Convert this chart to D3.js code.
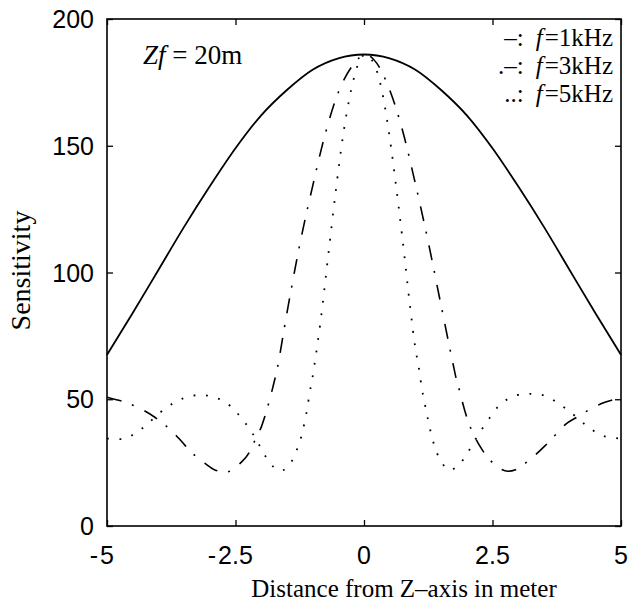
<!DOCTYPE html>
<html><head><meta charset="utf-8">
<script src="https://cdn.jsdelivr.net/npm/d3@7"></script>
<style>
body{margin:0;background:#fff;}
svg{display:block;}
</style></head>
<body>
<svg id="chart" width="631" height="604"></svg>
<script>
// ---- data ----
const xTicks = [-5, -2.5, 0, 2.5, 5];
const xTickLabels = ["-5", "-2.5", "0", "2.5", "5"];
const yTicks = [0, 50, 100, 150, 200];
const yTickLabels = ["0", "50", "100", "150", "200"];

const f1kX = [-5,-4.5,-4,-3.5,-3,-2.5,-2,-1.5,-1,-0.5,0,0.5,1,1.5,2,2.5,3,3.5,4,4.5,5];
const f1kY = [67.5,84,101,118,134,149,162,172,180,184.5,186,184.5,180,172,162,149,134,118,101,84,67.5];

const f3kX = [-5,-4.39,-4.07,-3.74,-3.56,-3.37,-3.14,-2.93,-2.7,-2.41,-2.23,-2.12,-1.99,-1.91,-1.84,-1.77,-1.7,-1.5,-1.25,-1,-0.75,-0.5,-0.21,0.03,
              0.25,0.5,0.75,1,1.25,1.5,1.73,1.8,1.87,1.93,2.04,2.16,2.27,2.44,2.63,2.8,2.95,3.11,3.33,3.52,3.74,3.92,4.14,4.43,4.66,4.88,5];
const f3kY = [50.8,46.7,42.9,37.5,33.6,29.3,25.4,22.4,21.2,24.7,29.1,33.9,39.5,44.5,49.5,55,61,84,111,134,155,171,182,186,
              182.5,172,156,135,112,87,64.2,57.6,52.6,47.7,40.5,35,31,26.3,22.8,21.6,22.2,24.3,28,31.6,36.3,40.1,42.9,46.4,48.6,50,50.8];

const f5kX = [-5,-4.71,-4.47,-4.26,-4.07,-3.87,-3.66,-3.42,-3.18,-2.92,-2.68,-2.49,-2.32,-2.17,-2.04,-1.91,-1.75,-1.63,-1.54,-1.38,-1.28,-1.2,-1.15,-1.1,-1.06,-1.01,-0.97,
              -0.85,-0.7,-0.55,-0.4,-0.25,-0.1,0.03,0.15,0.3,0.45,0.6,0.75,0.9,1.0,
              1.07,1.12,1.18,1.25,1.33,1.42,1.52,1.66,1.87,2.01,2.16,2.29,2.44,2.59,2.79,3.02,3.26,3.54,3.76,3.96,4.38,4.6,4.84,5];
const f5kY = [34.5,34.3,36.3,39.4,42.9,46.3,49,51,51.7,50.8,48.6,45.1,40.9,36.6,32,27.3,23.1,21.8,22.4,26.5,31.6,36.8,41.5,46.8,52.3,57.6,62.8,
              80,106,132,155,172,183,186,184,176,160,138,113,86,70,
              62,55,48.5,41.5,34.5,28.8,24.8,22.1,24.6,28.7,33.9,38.1,42.5,46.7,50,51.8,52.1,51.3,48.6,45.8,38.8,35.9,34.8,34.5];

const legendMarks = ["\u2013:", ".\u2013:", "..:"];
const legendFreqs = ["=1kHz", "=3kHz", "=5kHz"];

// ---- layout ----
const svg = d3.select("#chart");
const L = 107, R = 621, T = 19, B = 526;
const x = d3.scaleLinear().domain([-5, 5]).range([L, R]);
const y = d3.scaleLinear().domain([0, 200]).range([B, T]);
const sans = "'Liberation Sans', Arial, sans-serif";
const serif = "'Liberation Serif', 'Times New Roman', serif";

// frame
svg.append("rect").attr("x", L).attr("y", T).attr("width", R - L).attr("height", B - T)
  .attr("fill", "none").attr("stroke", "#000").attr("stroke-width", 1.6);

// axes (inner ticks)
const gxB = svg.append("g").attr("transform", `translate(0,${B})`)
  .call(d3.axisBottom(x).tickValues(xTicks).tickSize(-6).tickFormat(""));
const gxT = svg.append("g").attr("transform", `translate(0,${T})`)
  .call(d3.axisTop(x).tickValues(xTicks).tickSize(-6).tickFormat(""));
const gyL = svg.append("g").attr("transform", `translate(${L},0)`)
  .call(d3.axisLeft(y).tickValues(yTicks).tickSize(-6).tickFormat(""));
const gyR = svg.append("g").attr("transform", `translate(${R},0)`)
  .call(d3.axisRight(y).tickValues(yTicks).tickSize(-6).tickFormat(""));
[gxB, gxT, gyL, gyR].forEach(g => {
  g.select(".domain").remove();
  g.selectAll("line").attr("stroke", "#000").attr("stroke-width", 1.3);
});

// y tick labels
svg.append("g").selectAll("text").data(yTicks).join("text")
  .attr("x", L - 13).attr("y", d => y(d) + 9)
  .attr("text-anchor", "end").attr("font-family", sans).attr("font-size", 25)
  .text((d, i) => yTickLabels[i]);

// x tick labels (digits centred on tick, minus sign hanging left)
const xl = svg.append("g");
xTicks.forEach((v, i) => {
  const lab = xTickLabels[i];
  const neg = lab.startsWith("-");
  const digits = neg ? lab.slice(1) : lab;
  const t = xl.append("text").attr("x", x(v)).attr("y", B + 38)
    .attr("text-anchor", "middle").attr("font-family", sans).attr("font-size", 25).text(digits);
  if (neg) {
    const w = t.node().getComputedTextLength();
    xl.append("text").attr("x", x(v) - w / 2 - 2).attr("y", B + 38)
      .attr("text-anchor", "end").attr("font-family", sans).attr("font-size", 25).text("-");
  }
});

// axis titles
svg.append("text").attr("x", (L + R) / 2 + 40).attr("y", 597)
  .attr("text-anchor", "middle").attr("font-family", serif).attr("font-size", 25)
  .text("Distance from  Z\u2013axis in meter");
svg.append("text").attr("transform", `translate(30,${(T + B) / 2 - 2}) rotate(-90)`)
  .attr("text-anchor", "middle").attr("font-family", serif).attr("font-size", 28)
  .text("Sensitivity");

// curves
const line = d3.line().x(d => x(d[0])).y(d => y(d[1])).curve(d3.curveMonotoneX);
const plot = svg.append("g");
plot.append("path").datum(d3.zip(f1kX, f1kY)).attr("d", line)
  .attr("fill", "none").attr("stroke", "#000").attr("stroke-width", 1.8);
plot.append("path").datum(d3.zip(f3kX, f3kY)).attr("d", line)
  .attr("fill", "none").attr("stroke", "#000").attr("stroke-width", 1.6)
  .attr("stroke-dasharray", "15,11,2,12");
plot.append("path").datum(d3.zip(f5kX, f5kY)).attr("d", line)
  .attr("fill", "none").attr("stroke", "#000").attr("stroke-width", 1.8)
  .attr("stroke-dasharray", "1.8,10.7");

// annotation
const zt = svg.append("text").attr("x", 143).attr("y", 64)
  .attr("font-family", serif).attr("font-size", 27);
zt.append("tspan").attr("font-style", "italic").text("Zf");
zt.append("tspan").text(" = 20m");

// legend (one text per line, right aligned)
legendMarks.forEach((m, i) => {
  const t = svg.append("text").attr("x", 613).attr("y", 46 + i * 28)
    .attr("text-anchor", "end").attr("font-family", serif).attr("font-size", 25);
  t.append("tspan").text(m);
  t.append("tspan").attr("dx", 12).attr("font-style", "italic").text("f");
  t.append("tspan").attr("dx", 2).text(legendFreqs[i]);
});
</script>
</body></html>
